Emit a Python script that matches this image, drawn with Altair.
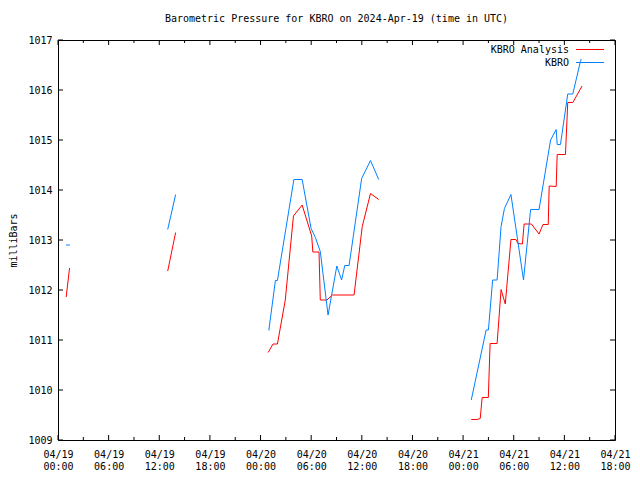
import altair as alt
import pandas as pd

# ---- data (hours since 2024-04-19 00:00 UTC, pressure in mb) ----
kbro_seg = [1, 1,
            2, 2,
            3, 3, 3, 3, 3, 3, 3, 3, 3, 3, 3, 3, 3, 3, 3, 3, 3,
            4, 4, 4, 4, 4, 4, 4, 4, 4, 4, 4, 4, 4, 4, 4, 4, 4, 4, 4, 4]
kbro_hours = [0.95, 1.4,
              13.0, 13.94,
              24.98, 25.76, 26.0, 27.95, 28.93, 29.99, 30.5, 31.08, 32.0, 33.04, 33.6, 33.98, 34.49, 35.98, 37.03, 38.0, 38.0,
              48.97, 50.73, 51.0, 51.5, 52.03, 52.5, 52.9, 53.67, 55.16, 56.0, 57.0, 58.37, 59.03, 59.15, 59.54, 60.4, 61.0, 61.9, 62.0, 62.0]
kbro_mb = [1012.9, 1012.9,
           1013.21, 1013.91,
           1011.19, 1012.19, 1012.19, 1014.21, 1014.21, 1013.23, 1013.05, 1012.77, 1011.5, 1012.48, 1012.2, 1012.49, 1012.49, 1014.23, 1014.59, 1014.21, 1014.21,
           1009.8, 1011.2, 1011.2, 1012.2, 1012.2, 1013.27, 1013.63, 1013.91, 1012.2, 1013.61, 1013.61, 1015.0, 1015.21, 1014.91, 1014.91, 1015.92, 1015.92, 1016.57, 1016.62, 1016.62]

analysis_seg = [1, 1,
                2, 2,
                3, 3, 3, 3, 3, 3, 3, 3, 3, 3, 3, 3, 3, 3, 3, 3, 3,
                4, 4, 4, 4, 4, 4, 4, 4, 4, 4, 4, 4, 4, 4, 4, 4, 4, 4, 4, 4, 4, 4, 4, 4, 4, 4, 4]
analysis_hours = [0.97, 1.37,
                  13.0, 13.94,
                  24.9, 25.48, 26.0, 26.93, 27.9, 28.93, 30.06, 30.2, 30.93, 31.08, 31.87, 32.5, 35.08, 36.05, 37.03, 38.0, 38.0,
                  48.97, 49.64, 50.03, 50.26, 50.99, 51.2, 52.03, 52.5, 53.0, 53.16, 53.67, 54.26, 54.5, 55.03, 55.23, 56.1, 57.0, 57.47,
                  58.09, 58.2, 59.03, 59.15, 60.13, 60.4, 61.0, 62.1, 62.1]
analysis_mb = [1011.86, 1012.44,
               1012.38, 1013.15,
               1010.75, 1010.92, 1010.92, 1011.8, 1013.48, 1013.7, 1013.08, 1012.76, 1012.76, 1011.8, 1011.8, 1011.9, 1011.9, 1013.27, 1013.93, 1013.81, 1013.81,
               1009.41, 1009.41, 1009.43, 1009.85, 1009.85, 1010.93, 1010.93, 1012.01, 1011.72, 1012.03, 1013.01, 1013.01, 1012.93, 1012.92, 1013.32, 1013.32, 1013.12, 1013.31,
               1013.31, 1014.08, 1014.07, 1014.71, 1014.71, 1015.75, 1015.75, 1016.08, 1016.08]

series_names = ["KBRO Analysis", "KBRO"]
series_colors = ["#ff0000", "#0080ff"]

x_major = [0, 6, 12, 18, 24, 30, 36, 42, 48, 54, 60, 66]
x_minor = [3, 9, 15, 21, 27, 33, 39, 45, 51, 57, 63]
y_ticks = [1009, 1010, 1011, 1012, 1013, 1014, 1015, 1016, 1017]

FONT = "DejaVu Sans Mono"
W, H = 557, 400

df = pd.concat([
    pd.DataFrame({"h": analysis_hours, "mb": analysis_mb, "seg": analysis_seg, "series": "KBRO Analysis"}),
    pd.DataFrame({"h": kbro_hours, "mb": kbro_mb, "seg": kbro_seg, "series": "KBRO"}),
], ignore_index=True)
df["order"] = range(len(df))

xscale = alt.Scale(domain=[0, 66], nice=False, zero=False)
yscale = alt.Scale(domain=[1009, 1017], nice=False, zero=False)

label_expr = ("['04/' + (19 + floor(datum.value / 24)), "
              "((datum.value % 24) < 10 ? '0' : '') + (datum.value % 24) + ':00']")

xaxis = alt.Axis(values=x_major, labelExpr=label_expr, ticks=False, domain=False, grid=False,
                 labelPadding=9, labelLineHeight=12, labelFontSize=10, labelFont=FONT,
                 labelColor="black", labelAngle=0, labelBaseline="top", labelAlign="center",
                 labelFlush=False, labelOverlap=False, title=None)
yaxis = alt.Axis(values=y_ticks, format="d", ticks=False, domain=False, grid=False,
                 labelPadding=6, labelFontSize=10, labelFont=FONT, labelColor="black",
                 labelFlush=False, labelOverlap=False,
                 title="milliBars", titleFont=FONT, titleFontSize=10, titleFontWeight="normal",
                 titleColor="black", titleAngle=-90, titleX=-45, titleY=H / 2,
                 titleAlign="center", titleBaseline="middle")

lines = alt.Chart(df).mark_line(strokeWidth=1, clip=True).encode(
    x=alt.X("h:Q", scale=xscale, axis=xaxis),
    y=alt.Y("mb:Q", scale=yscale, axis=yaxis),
    color=alt.Color("series:N", scale=alt.Scale(domain=series_names, range=series_colors), legend=None),
    detail="seg:N",
    order="order:Q",
)

maj = pd.DataFrame({"h": x_major})
mnr = pd.DataFrame({"h": x_minor})
yt = pd.DataFrame({"mb": y_ticks})

tick_style = dict(color="black", strokeWidth=1)
bx_major = alt.Chart(maj).mark_rule(**tick_style).encode(x=alt.X("h:Q", scale=xscale), y=alt.value(H), y2=alt.value(H - 5))
bx_minor = alt.Chart(mnr).mark_rule(**tick_style).encode(x=alt.X("h:Q", scale=xscale), y=alt.value(H), y2=alt.value(H - 3))
tx_major = alt.Chart(maj).mark_rule(**tick_style).encode(x=alt.X("h:Q", scale=xscale), y=alt.value(0), y2=alt.value(5))
tx_minor = alt.Chart(mnr).mark_rule(**tick_style).encode(x=alt.X("h:Q", scale=xscale), y=alt.value(0), y2=alt.value(3))
ly = alt.Chart(yt).mark_rule(**tick_style).encode(y=alt.Y("mb:Q", scale=yscale), x=alt.value(0), x2=alt.value(5))
ry = alt.Chart(yt).mark_rule(**tick_style).encode(y=alt.Y("mb:Q", scale=yscale), x=alt.value(W), x2=alt.value(W - 5))

leg = pd.DataFrame({"series": series_names, "color": series_colors, "ypos": [9.5, 22.5]})
leg_text = alt.Chart(leg).mark_text(align="right", baseline="middle", font=FONT, fontSize=10, color="black").encode(
    text="series:N", x=alt.value(W - 46), y=alt.Y("ypos:Q", scale=None))
leg_line = alt.Chart(leg).mark_rule(strokeWidth=1).encode(
    x=alt.value(W - 39), x2=alt.value(W - 11), y=alt.Y("ypos:Q", scale=None),
    color=alt.Color("color:N", scale=None))

chart = alt.layer(lines, bx_major, bx_minor, tx_major, tx_minor, ly, ry, leg_line, leg_text).properties(
    width=W, height=H,
    autosize="none",
    padding={"left": 50, "top": 32, "right": 17, "bottom": 33},
    background="white",
    title=alt.TitleParams("Barometric Pressure for KBRO on 2024-Apr-19 (time in UTC)",
                          font=FONT, fontSize=10, fontWeight="normal", color="black",
                          anchor="middle", offset=3, baseline="alphabetic"),
).configure_view(stroke="black", strokeWidth=1).configure_axis(labelFont=FONT)

chart.save("out.html", embed_options={"renderer": "svg", "actions": False})
